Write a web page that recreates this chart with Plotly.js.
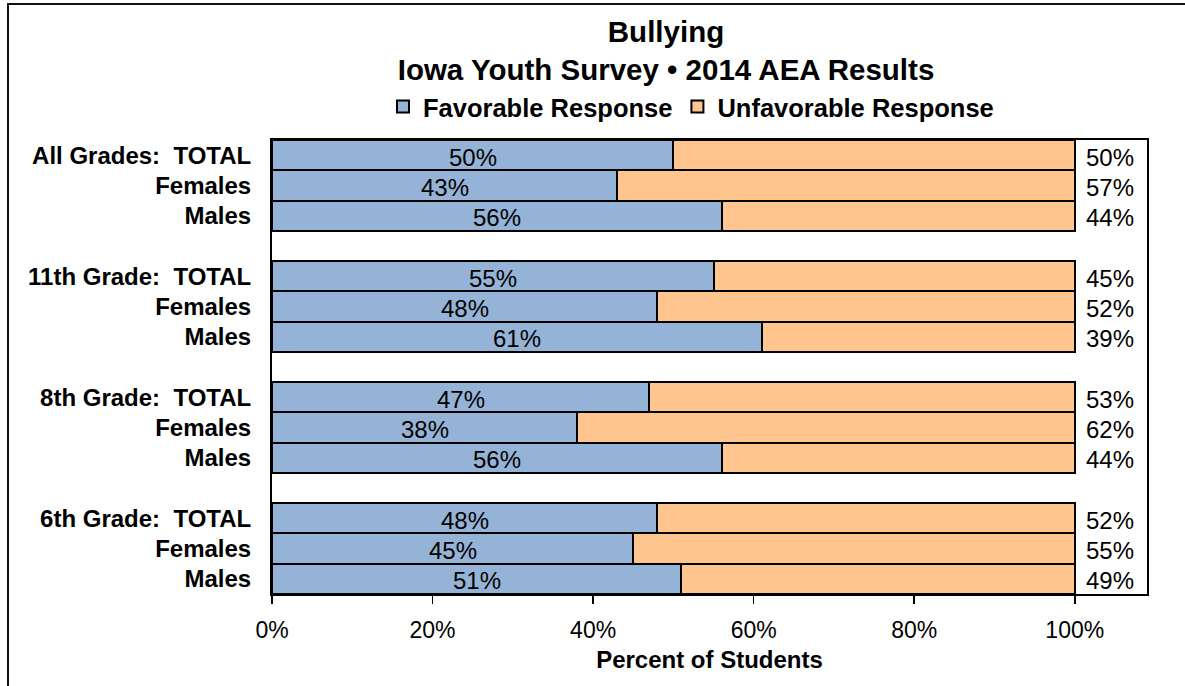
<!DOCTYPE html>
<html>
<head>
<meta charset="utf-8">
<script src="https://cdn.plot.ly/plotly-3.0.1.min.js"></script>
<style>
  html, body { margin: 0; padding: 0; background: #fff; overflow: hidden; }
  #wrap { position: relative; width: 1185px; height: 686px; }
  #chart { position: absolute; left: 0; top: 0; width: 1185px; height: 686px; }
  #frame { position: absolute; left: 7px; top: 3px; width: 2000px; height: 2000px;
           border-top: 2px solid #111; border-left: 2px solid #111; pointer-events: none; }
</style>
</head>
<body>
<div id="wrap">
  <div id="chart"></div>
  <div id="frame"></div>
</div>
<script>
// ---- data ----
const rowLabels = ["All Grades:\u00a0 TOTAL", "Females", "Males", "",
                   "11th Grade:\u00a0 TOTAL", "Females", "Males", "",
                   "8th Grade:\u00a0 TOTAL", "Females", "Males", "",
                   "6th Grade:\u00a0 TOTAL", "Females", "Males"];
const favorable   = [50, 43, 56, null, 55, 48, 61, null, 47, 38, 56, null, 48, 45, 51];
const unfavorable = [50, 57, 44, null, 45, 52, 39, null, 53, 62, 44, null, 52, 55, 49];
const xTicks = [0, 20, 40, 60, 80, 100];
const seriesNames = ["Favorable Response", "Unfavorable Response"];

// ---- build ----
const rowIdx = rowLabels.map((_, i) => i);
const tickVals = rowIdx.filter(i => rowLabels[i] !== "");
const tickText = tickVals.map(i => rowLabels[i]);
const FONT = "Liberation Sans, Arial, sans-serif";

const traces = [
  { type: "bar", orientation: "h", name: seriesNames[0], x: favorable, y: rowIdx,
    marker: { color: "#95B3D7", line: { color: "#000", width: 2 } }, hoverinfo: "x+y" },
  { type: "bar", orientation: "h", name: seriesNames[1], x: unfavorable, y: rowIdx,
    marker: { color: "#FFC58F", line: { color: "#000", width: 2 } }, hoverinfo: "x+y" }
];

const annotations = [];
rowIdx.forEach(i => {
  if (favorable[i] == null) return;
  annotations.push({ x: favorable[i] / 2, y: i, xref: "x", yref: "y", text: favorable[i] + "%",
    showarrow: false, yshift: -2, font: { family: FONT, size: 24, color: "#000" } });
  annotations.push({ x: 100, y: i, xref: "x", yref: "y", text: unfavorable[i] + "%",
    xanchor: "left", xshift: 9, yshift: -2, showarrow: false,
    font: { family: FONT, size: 24, color: "#000" } });
});

const layout = {
  width: 1185, height: 686,
  margin: { l: 272, r: 38, t: 140, b: 92, pad: 0 },
  paper_bgcolor: "#fff", plot_bgcolor: "#fff",
  barmode: "stack", bargap: 0,
  font: { family: FONT, color: "#000" },
  title: { text: "<b>Bullying<br>Iowa Youth Survey \u2022 2014 AEA Results</b>",
           x: 666 / 1185, xanchor: "center", y: 1 - 42 / 686, yanchor: "middle",
           font: { family: FONT, size: 29.5, color: "#000" } },
  legend: { orientation: "h", x: (691 - 272) / 875, xanchor: "center", y: (594 - 107) / 454, yanchor: "middle",
            traceorder: "normal",
            font: { family: FONT, size: 25.5, color: "#000", weight: 700 }, itemwidth: 30,
            bgcolor: "rgba(0,0,0,0)" },
  showlegend: true,
  xaxis: { range: [0, 109], tickvals: xTicks, ticktext: xTicks.map(v => v + "%"),
           showgrid: false, zeroline: false, showline: true, linecolor: "#000", linewidth: 2,
           mirror: true, ticks: "outside", ticklen: 8, tickwidth: 1.5, tickcolor: "#000",
           ticklabelstandoff: 6,
           tickfont: { family: FONT, size: 23, color: "#000" },
           title: { text: "<b>Percent of Students</b>", standoff: 10,
                    font: { family: FONT, size: 24, color: "#000" } } },
  yaxis: { range: [14.5, -0.5], tickvals: tickVals, ticktext: tickText,
           showgrid: false, zeroline: false, showline: true, linecolor: "#000", linewidth: 2,
           mirror: true, ticks: "", ticklabelstandoff: 14,
           tickfont: { family: FONT, size: 24, color: "#000", weight: 700 } },
  annotations: annotations
};

Plotly.newPlot("chart", traces, layout, { displayModeBar: false, staticPlot: true });
</script>
</body>
</html>
